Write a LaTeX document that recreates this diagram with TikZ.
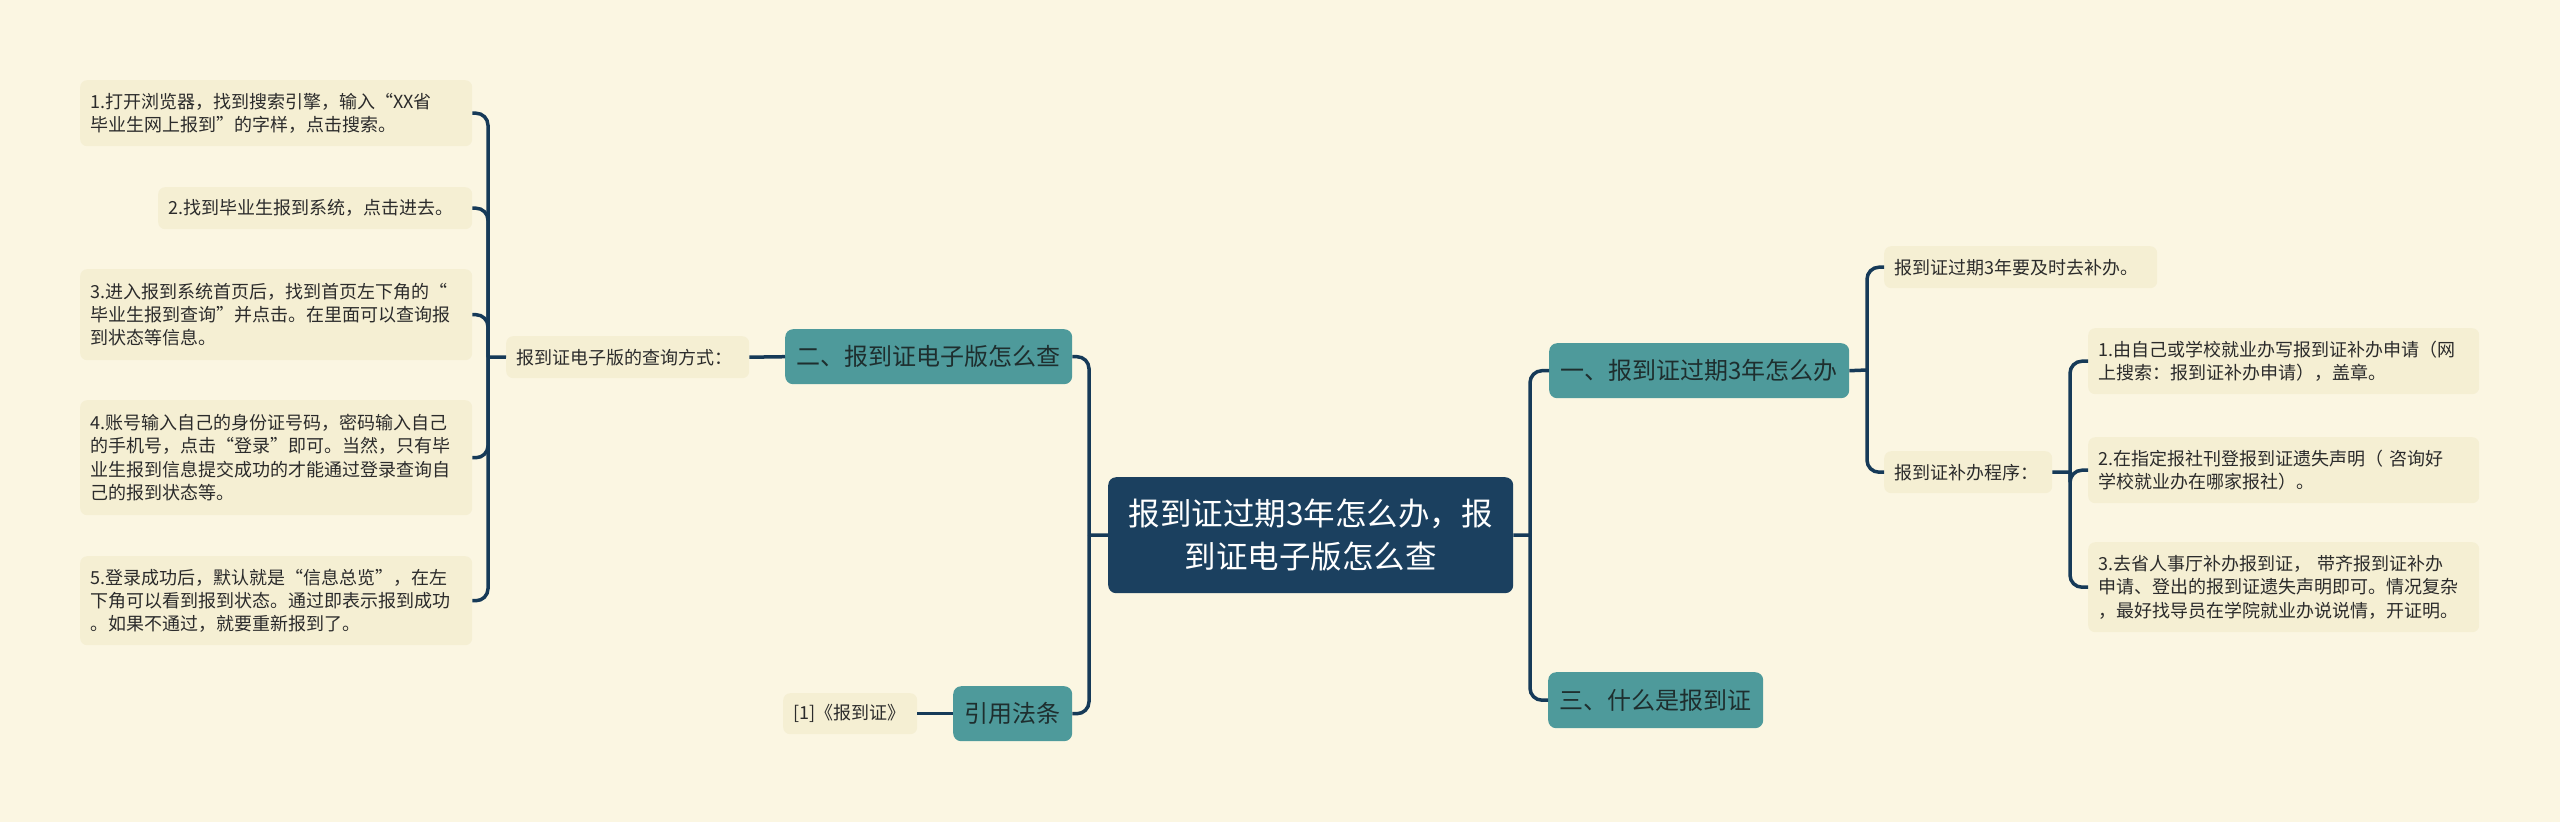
\documentclass[tikz,border=0pt]{standalone}
\usepackage{fontspec}
\setmainfont{Noto Sans CJK SC}
\definecolor{bg}{HTML}{FBF6E2}
\definecolor{leaffill}{HTML}{F5EFD3}
\definecolor{leaftext}{HTML}{2B2B2B}
\definecolor{tealfill}{HTML}{4E9A9B}
\definecolor{tealtext}{HTML}{1E2E2E}
\definecolor{rootfill}{HTML}{1B405F}
\definecolor{linecol}{HTML}{163A58}
\begin{document}
\begin{tikzpicture}[x=1pt,y=-1pt,
  leaf/.style={fill=leaffill, rounded corners=7pt, inner xsep=10pt, inner ysep=0pt,
    font=\fontsize{18}{23.3}\selectfont, text=leaftext, align=left, anchor=north west},
  topic/.style={fill=tealfill, rounded corners=8pt, inner sep=0pt,
    font=\fontsize{24}{30}\selectfont, text=tealtext, align=center, anchor=north west},
  rootbox/.style={fill=rootfill, rounded corners=8pt, inner sep=0pt,
    font=\fontsize{31.5}{43}\selectfont, text=white, align=center, anchor=north west},
  conn/.style={draw=linecol, line width=3.5pt, rounded corners=12pt}]
\fill[bg] (0,0) rectangle (2560,822);
\useasboundingbox (0,0) rectangle (2560,822);

% root
\node[rootbox, minimum width=405pt, minimum height=116pt] (c) at (1108,477)
  {报到证过期3年怎么办，报\\到证电子版怎么查};

% left side
\node[topic, minimum width=287pt, minimum height=55pt] (er) at (785,329) {二、报到证电子版怎么查};
\node[topic, minimum width=119pt, minimum height=55pt] (yin) at (953,686) {引用法条};
\node[leaf, minimum width=243pt, minimum height=42pt, text width=223pt] (q) at (506,336) {报到证电子版的查询方式：};
\node[leaf, minimum width=134pt, minimum height=41pt, text width=114pt] (cite) at (783,693) {[1]《报到证》};

\node[leaf, minimum width=392pt, minimum height=66pt, text width=372pt] (n1) at (80,80)
  {1.打开浏览器，找到搜索引擎，输入“XX省\\毕业生网上报到”的字样，点击搜索。};
\node[leaf, minimum width=314pt, minimum height=42pt, text width=294pt] (n2) at (158,187)
  {2.找到毕业生报到系统，点击进去。};
\node[leaf, minimum width=392pt, minimum height=91pt, text width=372pt] (n3) at (80,269)
  {3.进入报到系统首页后，找到首页左下角的“\\毕业生报到查询”并点击。在里面可以查询报\\到状态等信息。};
\node[leaf, minimum width=392pt, minimum height=115pt, text width=372pt] (n4) at (80,400)
  {4.账号输入自己的身份证号码，密码输入自己\\的手机号，点击“登录”即可。当然，只有毕\\业生报到信息提交成功的才能通过登录查询自\\己的报到状态等。};
\node[leaf, minimum width=392pt, minimum height=89pt, text width=372pt] (n5) at (80,556)
  {5.登录成功后，默认就是“信息总览”，在左\\下角可以看到报到状态。通过即表示报到成功\\。如果不通过，就要重新报到了。};

% right side
\node[topic, minimum width=300pt, minimum height=55pt] (yi) at (1549,343) {一、报到证过期3年怎么办};
\node[topic, minimum width=215pt, minimum height=56pt] (san) at (1548,672) {三、什么是报到证};
\node[leaf, minimum width=273pt, minimum height=42pt, text width=253pt] (a1) at (1884,246) {报到证过期3年要及时去补办。};
\node[leaf, minimum width=168pt, minimum height=42pt, text width=148pt] (a2) at (1884,451) {报到证补办程序：};
\node[leaf, minimum width=391pt, minimum height=66pt, text width=371pt] (r1) at (2088,328)
  {1.由自己或学校就业办写报到证补办申请（网\\上搜索：报到证补办申请），盖章。};
\node[leaf, minimum width=391pt, minimum height=66pt, text width=371pt] (r2) at (2088,437)
  {2.在指定报社刊登报到证遗失声明（ 咨询好\\学校就业办在哪家报社）。};
\node[leaf, minimum width=391pt, minimum height=90pt, text width=371pt] (r3) at (2088,542)
  {3.去省人事厅补办报到证， 带齐报到证补办\\申请、登出的报到证遗失声明即可。情况复杂\\，最好找导员在学院就业办说说情，开证明。};

% junctions
\coordinate (lj) at (488,357);
\coordinate (cj) at (1089,535);
\coordinate (rj) at (1530,535);
\coordinate (yj) at (1867,370);
\coordinate (aj) at (2070,472);

% connectors
\draw[conn] (c.west) -- (cj);
\draw[conn] (cj) |- (er.east);
\draw[conn] (cj) |- (yin.east);
\draw[conn] (er.west) -- (q.east);
\draw[conn] (yin.west) -- (cite.east);
\draw[conn] (q.west) -- (lj);
\foreach \n in {n1,n2,n3,n4,n5} \draw[conn] (lj) |- (\n.east);

\draw[conn] (c.east) -- (rj);
\draw[conn] (rj) |- (yi.west);
\draw[conn] (rj) |- (san.west);
\draw[conn] (yi.east) -- (yj);
\draw[conn] (yj) |- (a1.west);
\draw[conn] (yj) |- (a2.west);
\draw[conn] (a2.east) -- (aj);
\foreach \n in {r1,r2,r3} \draw[conn] (aj) |- (\n.west);
\end{tikzpicture}
\end{document}
